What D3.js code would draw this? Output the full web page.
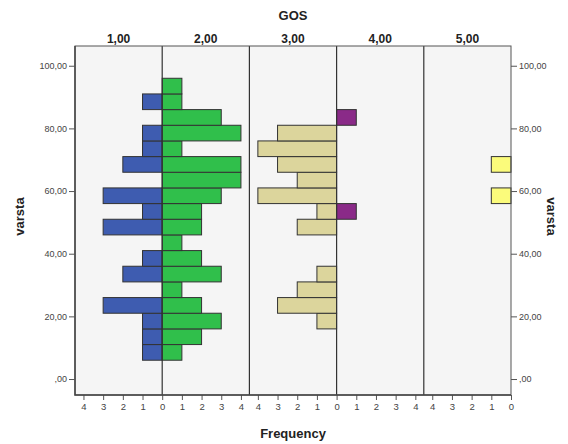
<!DOCTYPE html>
<html>
<head>
<meta charset="utf-8">
<script src="https://cdn.jsdelivr.net/npm/d3@7"></script>
<style>
  body { margin: 0; background: #fff; }
  text { font-family: "Liberation Sans", Arial, sans-serif; }
</style>
</head>
<body>
<script>
// size of the page
var w = 568;
var h = 444;

// bins of varsta (lower edges, width 5)
const binStarts = [6, 11, 16, 21, 26, 31, 36, 41, 46, 51, 56, 61, 66, 71, 76, 81, 86, 91];
const binWidth = 5;

// the GOS groups, one panel each
const gosLabels = ["1,00", "2,00", "3,00", "4,00", "5,00"];

// frequencies per bin, per GOS
const gos1 = [1, 1, 1, 3, 0, 2, 1, 0, 3, 1, 3, 0, 2, 1, 1, 0, 1, 0];
const gos2 = [1, 2, 3, 2, 1, 3, 2, 1, 2, 2, 3, 4, 4, 1, 4, 3, 1, 1];
const gos3 = [0, 0, 1, 3, 2, 1, 0, 0, 2, 1, 4, 2, 3, 4, 3, 0, 0, 0];
const gos4 = [0, 0, 0, 0, 0, 0, 0, 0, 0, 1, 0, 0, 0, 0, 0, 1, 0, 0];
const gos5 = [0, 0, 0, 0, 0, 0, 0, 0, 0, 0, 1, 0, 1, 0, 0, 0, 0, 0];

const yTicks = [0, 20, 40, 60, 80, 100];
const freqTicks = [0, 1, 2, 3, 4];

const allSeries = [gos1, gos2, gos3, gos4, gos5];
const colors = ["#3e5cb0", "#30bf4b", "#dcd59c", "#8a2a88", "#fbfb7b"];

// plot area
const pLeft = 75, pRight = 511, pTop = 46, pBottom = 395;
const panelW = (pRight - pLeft) / 5;

const svg = d3.select("body").append("svg")
  .attr("width", w)
  .attr("height", h);

svg.append("rect")
  .attr("x", pLeft).attr("y", pTop)
  .attr("width", pRight - pLeft).attr("height", pBottom - pTop)
  .attr("fill", "#f5f5f5");

const y = d3.scaleLinear()
  .domain([-5.1, 106.3])
  .range([pBottom, pTop]);

// odd panels go left from their right edge, even go right from left edge
function xScaleFor(i) {
  const x0 = pLeft + i * panelW;
  if (i % 2 === 0) {
    return d3.scaleLinear().domain([0, 4.43]).range([x0 + panelW, x0]);
  }
  return d3.scaleLinear().domain([0, 4.43]).range([x0, x0 + panelW]);
}

allSeries.forEach((vals, i) => {
  const x = xScaleFor(i);
  const data = binStarts.map((b, k) => ({ lo: b, n: vals[k] })).filter(d => d.n > 0);

  svg.append("g")
    .selectAll("rect")
    .data(data)
    .enter()
    .append("rect")
    .attr("x", d => Math.min(x(0), x(d.n)))
    .attr("y", d => y(d.lo + binWidth))
    .attr("width", d => Math.abs(x(d.n) - x(0)))
    .attr("height", d => y(d.lo) - y(d.lo + binWidth))
    .attr("fill", colors[i])
    .attr("stroke", "#333")
    .attr("stroke-width", 1);

  // bottom frequency axis (0 is shared with the panel before)
  const ticks = (i % 2 === 1) ? freqTicks.slice(1) : freqTicks;
  const ax = svg.append("g")
    .attr("transform", `translate(0,${pBottom})`)
    .call(d3.axisBottom(x).tickValues(ticks).tickSize(5).tickPadding(3).tickFormat(d3.format("d")));
  ax.select(".domain").remove();
  ax.selectAll("line").attr("stroke", "#555");
  ax.selectAll("text").attr("fill", "#444").style("font-size", "9.5px");

  // panel header
  svg.append("text")
    .attr("x", pLeft + i * panelW + panelW / 2)
    .attr("y", 43)
    .attr("text-anchor", "middle")
    .style("font-size", "12px")
    .style("font-weight", "bold")
    .attr("fill", "#222")
    .text(gosLabels[i]);
});

// panel dividers
d3.range(1, 5).forEach(k => {
  svg.append("line")
    .attr("x1", pLeft + k * panelW).attr("x2", pLeft + k * panelW)
    .attr("y1", pTop).attr("y2", pBottom)
    .attr("stroke", "#333").attr("stroke-width", 1.2);
});

// frame
svg.append("rect")
  .attr("x", pLeft).attr("y", pTop)
  .attr("width", pRight - pLeft).attr("height", pBottom - pTop)
  .attr("fill", "none").attr("stroke", "#555").attr("stroke-width", 1);
svg.append("path")
  .attr("d", `M${pLeft},${pTop}V${pBottom}H${pRight}`)
  .attr("fill", "none").attr("stroke", "#444").attr("stroke-width", 1.5);

const fmt = d => d === 0 ? ",00" : d + ",00";

const yl = svg.append("g")
  .attr("transform", `translate(${pLeft},0)`)
  .call(d3.axisLeft(y).tickValues(yTicks).tickSize(6).tickPadding(2).tickFormat(fmt));
yl.select(".domain").remove();
yl.selectAll("line").attr("stroke", "#555");
yl.selectAll("text").attr("fill", "#444").style("font-size", "9px");

const yr = svg.append("g")
  .attr("transform", `translate(${pRight},0)`)
  .call(d3.axisRight(y).tickValues(yTicks).tickSize(6).tickPadding(2).tickFormat(fmt));
yr.select(".domain").remove();
yr.selectAll("line").attr("stroke", "#555");
yr.selectAll("text").attr("fill", "#444").style("font-size", "9px");

// titles
svg.append("text")
  .attr("x", (pLeft + pRight) / 2).attr("y", 20)
  .attr("text-anchor", "middle")
  .style("font-size", "13px").style("font-weight", "bold")
  .attr("fill", "#222")
  .text("GOS");

svg.append("text")
  .attr("x", (pLeft + pRight) / 2).attr("y", 438)
  .attr("text-anchor", "middle")
  .style("font-size", "13px").style("font-weight", "bold")
  .attr("fill", "#222")
  .text("Frequency");

svg.append("text")
  .attr("transform", `translate(24,${(pTop + pBottom) / 2 - 4}) rotate(-90)`)
  .attr("text-anchor", "middle")
  .style("font-size", "13px").style("font-weight", "bold")
  .attr("fill", "#222")
  .text("varsta");

svg.append("text")
  .attr("transform", `translate(547,${(pTop + pBottom) / 2 - 4}) rotate(90)`)
  .attr("text-anchor", "middle")
  .style("font-size", "13px").style("font-weight", "bold")
  .attr("fill", "#222")
  .text("varsta");
</script>
</body>
</html>
